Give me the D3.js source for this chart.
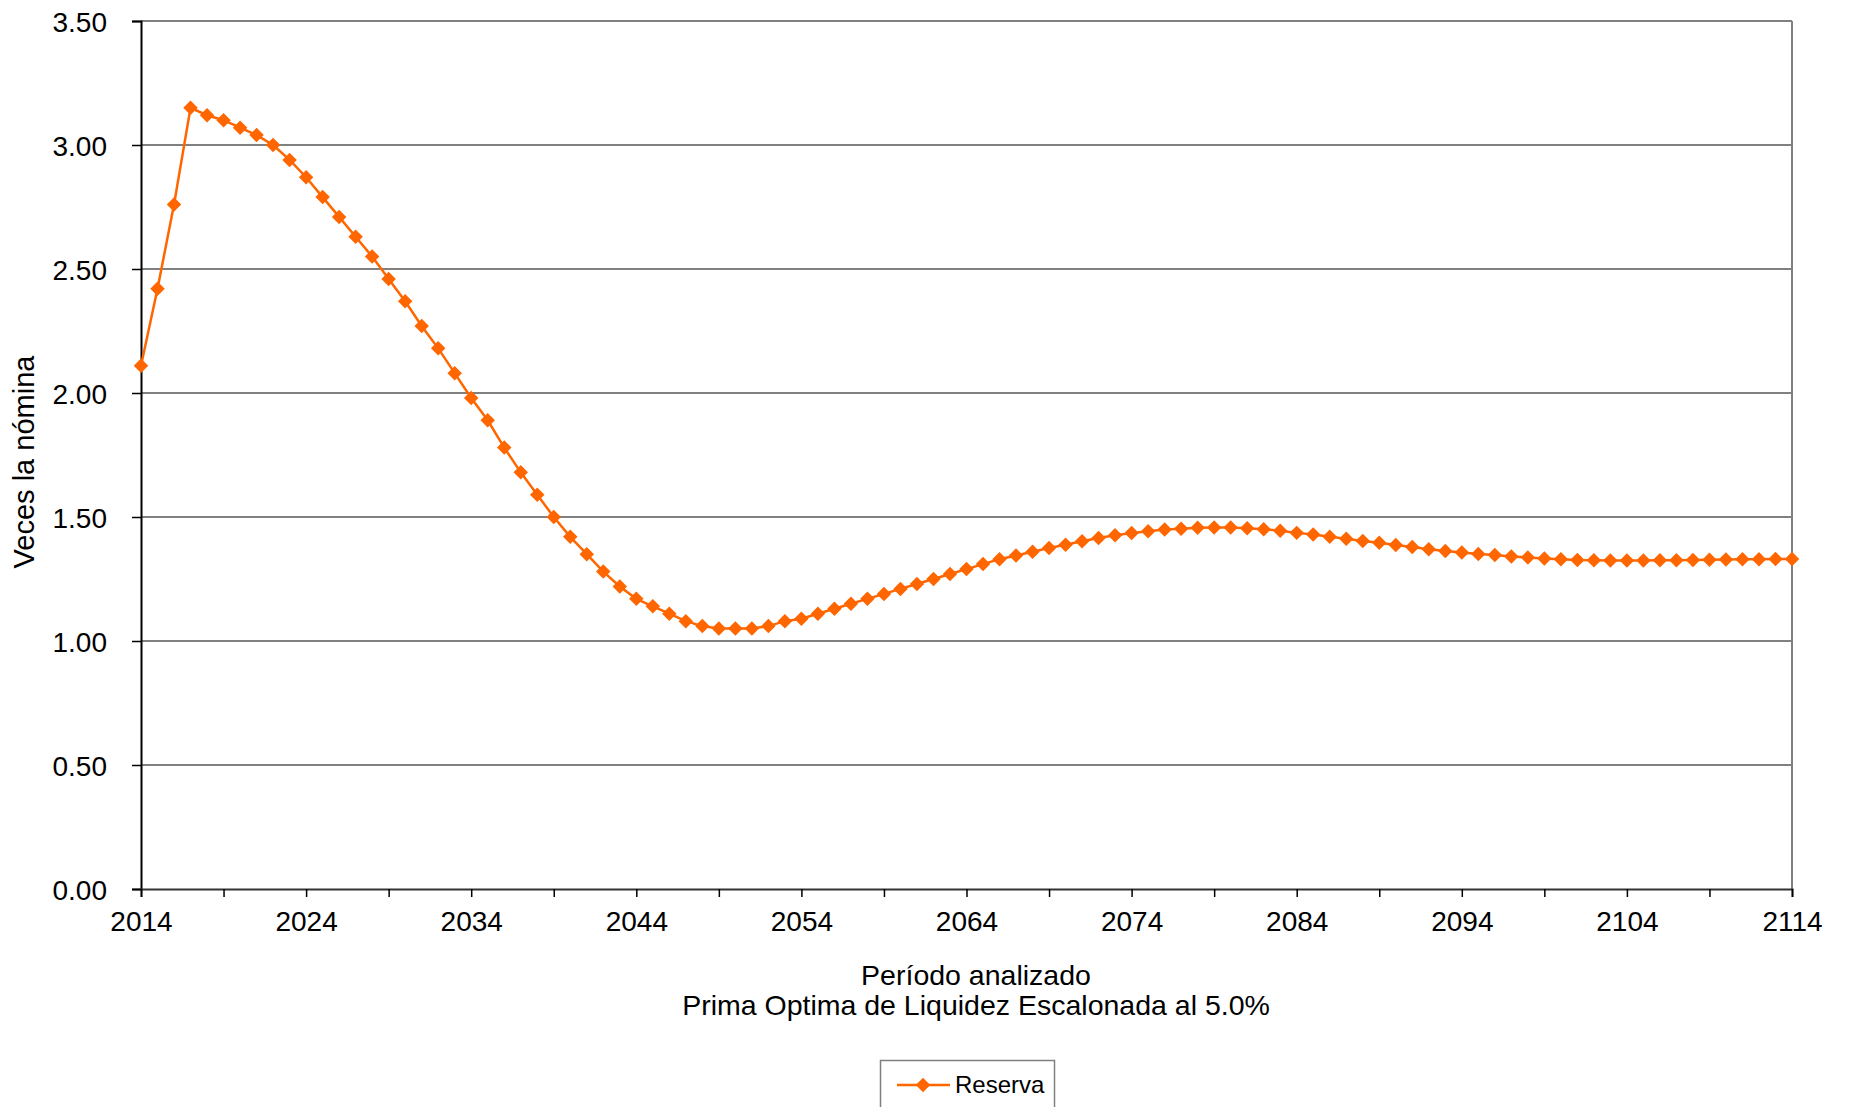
<!DOCTYPE html>
<html>
<head>
<meta charset="utf-8">
<script src="https://cdn.jsdelivr.net/npm/d3@7"></script>
<style>
  body { margin: 0; background: #fff; }
  svg text { font-family: "Liberation Sans", Arial, sans-serif; fill: #000; }
</style>
</head>
<body>
<svg id="chart" width="1849" height="1107"></svg>
<script>
// years on the x axis
var years = d3.range(2014, 2115);

// reserve, times the payroll
var reserva = [
  2.11, 2.42, 2.76, 3.15, 3.12, 3.10, 3.07, 3.04, 3.00, 2.94,
  2.87, 2.79, 2.71, 2.63, 2.55, 2.46, 2.37, 2.27, 2.18, 2.08,
  1.98, 1.89, 1.78, 1.68, 1.59, 1.50, 1.42, 1.35, 1.28, 1.22,
  1.17, 1.14, 1.11, 1.08, 1.06, 1.05, 1.05, 1.05, 1.06, 1.08,
  1.09, 1.11, 1.13, 1.15, 1.17, 1.19, 1.21, 1.23, 1.25, 1.27,
  1.29, 1.31, 1.33, 1.345, 1.36, 1.375, 1.388, 1.402, 1.415, 1.426,
  1.435, 1.443, 1.45, 1.453, 1.457, 1.458, 1.458, 1.455, 1.451, 1.445,
  1.436, 1.429, 1.42, 1.412, 1.403, 1.396, 1.387, 1.379, 1.37, 1.363,
  1.357, 1.351, 1.347, 1.341, 1.337, 1.333, 1.33, 1.327, 1.326, 1.325,
  1.325, 1.325, 1.326, 1.326, 1.327, 1.328, 1.329, 1.33, 1.33, 1.331,
  1.331
];

var yTicks = [0, 0.5, 1, 1.5, 2, 2.5, 3, 3.5];
var xLabelYears = d3.range(2014, 2115, 10);
var xTickYears = d3.range(2014, 2115, 5);

var orange = "#FF6600";
var grid = "#808080";

// plot box (window.top is taken, so prefix these)
var plotLeft = 141, plotRight = 1792, plotTop = 21, plotBottom = 889;

var svg = d3.select("#chart");

var x = d3.scaleLinear().domain([2014, 2114]).range([plotLeft, plotRight]);
var y = d3.scaleLinear().domain([0, 3.5]).range([plotBottom, plotTop]);

// gridlines
svg.append("g")
  .selectAll("line")
  .data(yTicks.filter(function(d) { return d > 0; }))
  .enter().append("line")
  .attr("x1", plotLeft).attr("x2", plotRight)
  .attr("y1", function(d) { return y(d); })
  .attr("y2", function(d) { return y(d); })
  .attr("stroke", grid)
  .attr("stroke-width", 2);

// right border
svg.append("line")
  .attr("x1", plotRight).attr("x2", plotRight)
  .attr("y1", plotTop).attr("y2", plotBottom)
  .attr("stroke", grid).attr("stroke-width", 2);

// y axis
var yAxis = d3.axisLeft(y)
  .tickValues(yTicks)
  .tickFormat(d3.format(".2f"))
  .tickSize(9)
  .tickPadding(25);

var gy = svg.append("g")
  .attr("transform", "translate(" + plotLeft + ",0)")
  .call(yAxis);
gy.select(".domain").attr("stroke", "#000").attr("stroke-width", 2);
gy.selectAll(".tick line").attr("stroke", "#000").attr("stroke-width", 1.5);
gy.selectAll(".tick text")
  .attr("font-size", 28)
  .attr("dy", "0.36em")
  .style("font-family", "'Liberation Sans', Arial, sans-serif");

// x axis: ticks every 5 years, labels every 10
var xAxis = d3.axisBottom(x)
  .tickValues(xTickYears)
  .tickFormat(function(d) { return xLabelYears.indexOf(d) >= 0 ? d : ""; })
  .tickSize(8)
  .tickPadding(14);

var gx = svg.append("g")
  .attr("transform", "translate(0," + plotBottom + ")")
  .call(xAxis);
gx.select(".domain").attr("stroke", "#333").attr("stroke-width", 2);
gx.selectAll(".tick line").attr("stroke", "#000").attr("stroke-width", 1.5);
gx.selectAll(".tick text")
  .attr("font-size", 28)
  .style("font-family", "'Liberation Sans', Arial, sans-serif");

// line
var line = d3.line()
  .x(function(d, i) { return x(years[i]); })
  .y(function(d) { return y(d); });

svg.append("path")
  .datum(reserva)
  .attr("d", line)
  .attr("fill", "none")
  .attr("stroke", orange)
  .attr("stroke-width", 2.5);

// diamond markers
var diamond = d3.symbol().type(d3.symbolSquare).size(105);

svg.append("g")
  .selectAll("path")
  .data(reserva)
  .enter().append("path")
  .attr("d", diamond)
  .attr("fill", orange)
  .attr("transform", function(d, i) {
    return "translate(" + x(years[i]) + "," + y(d) + ") rotate(45)";
  });

// axis titles
svg.append("text")
  .attr("transform", "translate(34,462) rotate(-90)")
  .attr("text-anchor", "middle")
  .attr("font-size", 29)
  .text("Veces la nómina");

svg.append("text")
  .attr("x", 976).attr("y", 985)
  .attr("text-anchor", "middle")
  .attr("font-size", 28.5)
  .text("Período analizado");

svg.append("text")
  .attr("x", 976).attr("y", 1015)
  .attr("text-anchor", "middle")
  .attr("font-size", 28.5)
  .text("Prima Optima de Liquidez Escalonada al 5.0%");

// legend
var lg = svg.append("g");
lg.append("rect")
  .attr("x", 880.5).attr("y", 1060.5)
  .attr("width", 174).attr("height", 60)
  .attr("fill", "#fff")
  .attr("stroke", "#808080")
  .attr("stroke-width", 1.5);
lg.append("line")
  .attr("x1", 897).attr("x2", 950)
  .attr("y1", 1085).attr("y2", 1085)
  .attr("stroke", orange).attr("stroke-width", 2.5);
lg.append("path")
  .attr("d", diamond)
  .attr("fill", orange)
  .attr("transform", "translate(923,1085) rotate(45)");
lg.append("text")
  .attr("x", 955).attr("y", 1093)
  .attr("font-size", 24)
  .text("Reserva");
</script>
</body>
</html>
